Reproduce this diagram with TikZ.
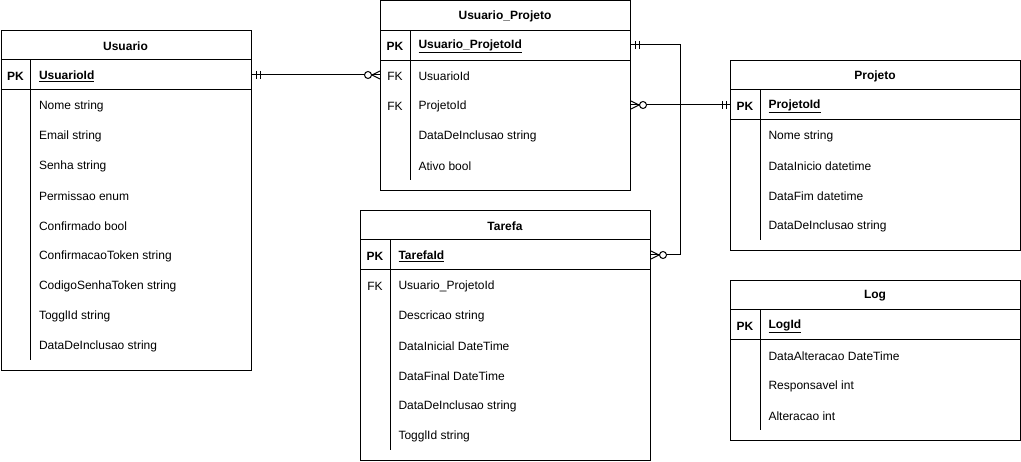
\documentclass[tikz,border=0pt]{standalone}
\usepackage{fontspec}
\setmainfont{Liberation Sans}
\begin{document}
\begin{tikzpicture}[x=1pt,y=-1pt,line width=1pt,
  tbl/.style={draw=black,line width=1pt,inner sep=0pt,fill=white},
  hdr/.style={inner sep=0pt,yshift=-1pt,font=\fontsize{12}{14}\selectfont\bfseries},
  keyl/.style={inner sep=0pt,yshift=-1pt,font=\fontsize{12}{14}\selectfont},
  pkl/.style={inner sep=0pt,yshift=-1pt,font=\fontsize{12}{14}\selectfont\bfseries},
  fld/.style={inner sep=0pt,yshift=-1pt,anchor=west,font=\fontsize{12}{14}\selectfont},
  pkf/.style={inner sep=0pt,yshift=-1pt,anchor=west,font=\fontsize{12}{14}\selectfont\bfseries},
  rel/.style={draw=black,line width=1pt},
  ring/.style={draw=black,fill=white,line width=1pt}]
\useasboundingbox (0,0) rectangle (1021,462);

% #1 name, #2 x, #3 y, #4 w, #5 h, #6 title, #7 divider end
\newcommand\ertbl[7]{%
  \node[tbl,minimum width=#4pt,minimum height=#5pt,anchor=north west] (#1) at (#2,#3) {};
  \node[hdr] (#1-title) at ({#2+#4/2},{#3+15}) {#6};
  \draw ({#2},{#3+30}) -- ({#2+#4},{#3+30});
  \draw ({#2},{#3+60}) -- ({#2+#4},{#3+60});
  \draw ({#2+30},{#3+30}) -- ({#2+30},{#7});
}
% #1 name, #2 table x, #3 y, #4 key, #5 text
\newcommand\errow[5]{%
  \node[keyl] (#1-k) at ({#2+15},{#3}) {#4};
  \node[fld] (#1) at ({#2+38},{#3}) {#5};
}

% Usuario
\ertbl{usu}{0.5}{30}{250}{340}{Usuario}{360}
\node[pkl] (usu-pk-k) at (15.5,75) {PK};
\node[pkf] (usu-pk) at (38.5,75) {\underline{UsuarioId}};
\errow{usu-r1}{0.5}{105}{}{Nome string}
\errow{usu-r2}{0.5}{135}{}{Email string}
\errow{usu-r3}{0.5}{165}{}{Senha string}
\errow{usu-r4}{0.5}{195}{}{Permissao enum}
\errow{usu-r5}{0.5}{225}{}{Confirmado bool}
\errow{usu-r6}{0.5}{255}{}{ConfirmacaoToken string}
\errow{usu-r7}{0.5}{285}{}{CodigoSenhaToken string}
\errow{usu-r8}{0.5}{315}{}{TogglId string}
\errow{usu-r9}{0.5}{345}{}{DataDeInclusao string}

% Usuario_Projeto
\ertbl{up}{380}{0.5}{250}{190}{Usuario\_Projeto}{180}
\node[pkl] (up-pk-k) at (395,45) {PK};
\node[pkf] (up-pk) at (418,45) {\underline{Usuario\_ProjetoId}};
\errow{up-r1}{380}{75}{FK}{UsuarioId}
\errow{up-r2}{380}{105}{FK}{ProjetoId}
\errow{up-r3}{380}{135}{}{DataDeInclusao string}
\errow{up-r4}{380}{165}{}{Ativo bool}

% Projeto
\ertbl{pro}{730}{60}{290}{190}{Projeto}{240}
\node[pkl] (pro-pk-k) at (745,105) {PK};
\node[pkf] (pro-pk) at (768,105) {\underline{ProjetoId}};
\errow{pro-r1}{730}{135}{}{Nome string}
\errow{pro-r2}{730}{165}{}{DataInicio datetime}
\errow{pro-r3}{730}{195}{}{DataFim datetime}
\errow{pro-r4}{730}{225}{}{DataDeInclusao string}

% Tarefa
\ertbl{tar}{360}{210}{290}{250}{Tarefa}{450}
\node[pkl] (tar-pk-k) at (375,255) {PK};
\node[pkf] (tar-pk) at (398,255) {\underline{TarefaId}};
\errow{tar-r1}{360}{285}{FK}{Usuario\_ProjetoId}
\errow{tar-r2}{360}{315}{}{Descricao string}
\errow{tar-r3}{360}{345}{}{DataInicial DateTime}
\errow{tar-r4}{360}{375}{}{DataFinal DateTime}
\errow{tar-r5}{360}{405}{}{DataDeInclusao string}
\errow{tar-r6}{360}{435}{}{TogglId string}

% Log
\ertbl{log}{730}{280}{290}{160}{Log}{430}
\node[pkl] (log-pk-k) at (745,325) {PK};
\node[pkf] (log-pk) at (768,325) {\underline{LogId}};
\errow{log-r1}{730}{355}{}{DataAlteracao DateTime}
\errow{log-r2}{730}{385}{}{Responsavel int}
\errow{log-r3}{730}{415}{}{Alteracao int}

% connection points
\coordinate (c-usu) at (usu.east |- 0,75);
\coordinate (c-upfk1) at (up.west |- 0,75);
\coordinate (c-upfk2) at (up.east |- 0,105);
\coordinate (c-propk) at (pro.west |- 0,105);
\coordinate (c-uppk) at (up.east |- 0,45);
\coordinate (c-bend1) at (680,45);
\coordinate (c-bend2) at (680,255);
\coordinate (c-tarpk) at (tar.east |- 0,255);

% Usuario -- Usuario_Projeto
\draw[rel] (c-usu) -- (c-upfk1);
\draw[rel] ([xshift=5pt]c-usu) ++(0,-4) -- ++(0,8);
\draw[rel] ([xshift=9pt]c-usu) ++(0,-4) -- ++(0,8);
\draw[rel] ([xshift=-8pt]c-upfk1) -- ([yshift=4pt]c-upfk1);
\draw[rel] ([xshift=-8pt]c-upfk1) -- ([yshift=-4pt]c-upfk1);
\draw[ring] ([xshift=-12pt]c-upfk1) circle (3.5);

% Usuario_Projeto -- Projeto
\draw[rel] (c-upfk2) -- (c-propk);
\draw[rel] ([xshift=8pt]c-upfk2) -- ([yshift=4pt]c-upfk2);
\draw[rel] ([xshift=8pt]c-upfk2) -- ([yshift=-4pt]c-upfk2);
\draw[ring] ([xshift=12pt]c-upfk2) circle (3.5);
\draw[rel] ([xshift=-4pt]c-propk) ++(0,-4) -- ++(0,8);
\draw[rel] ([xshift=-8pt]c-propk) ++(0,-4) -- ++(0,8);

% Usuario_Projeto -- Tarefa
\draw[rel] (c-uppk) -- (c-bend1) -- (c-bend2) -- (c-tarpk);
\draw[rel] ([xshift=4pt]c-uppk) ++(0,-4) -- ++(0,8);
\draw[rel] ([xshift=8pt]c-uppk) ++(0,-4) -- ++(0,8);
\draw[rel] ([xshift=8pt]c-tarpk) -- ([yshift=4pt]c-tarpk);
\draw[rel] ([xshift=8pt]c-tarpk) -- ([yshift=-4pt]c-tarpk);
\draw[ring] ([xshift=12pt]c-tarpk) circle (3.5);
\end{tikzpicture}
\end{document}
